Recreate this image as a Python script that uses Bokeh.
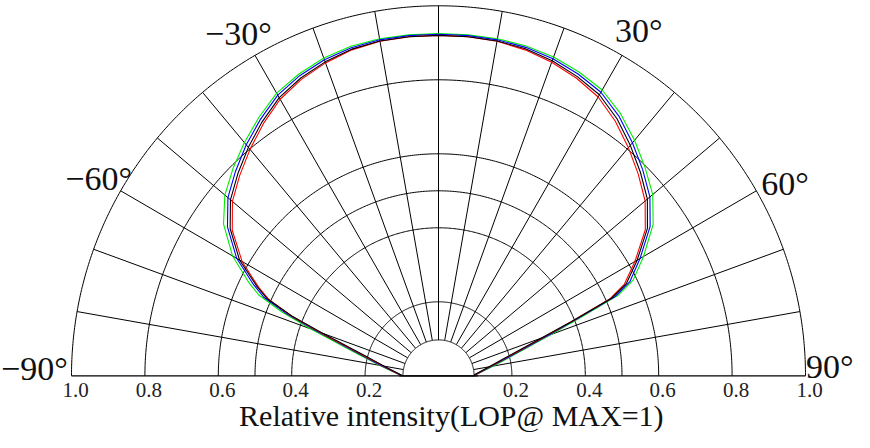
import numpy as np
from bokeh.plotting import figure
from bokeh.models import ColumnDataSource, Label
from bokeh.core.properties import value
from bokeh.embed import file_html
from bokeh.resources import INLINE

# ---------------- data ----------------
angles = [-90, -85, -80, -75, -70, -68, -66, -64, -60, -55, -50, -45, -40, -35, -30, -25, -20, -15, -10, -5,
          0, 5, 10, 15, 20, 25, 30, 35, 40, 45, 50, 55, 60, 64, 66, 68, 70, 75, 80, 85, 90]

black_r = [0.098, 0.118, 0.150, 0.206, 0.336, 0.430, 0.510, 0.550, 0.626, 0.693, 0.740, 0.773, 0.806, 0.838,
           0.868, 0.888, 0.903, 0.914, 0.919, 0.920, 0.920, 0.920, 0.919, 0.915, 0.906, 0.893, 0.877, 0.848,
           0.813, 0.778, 0.743, 0.695, 0.625, 0.570, 0.517, 0.390, 0.300, 0.190, 0.140, 0.111, 0.093]

red_r = [0.098, 0.120, 0.155, 0.212, 0.345, 0.435, 0.505, 0.545, 0.618, 0.686, 0.733, 0.766, 0.799, 0.832,
         0.863, 0.884, 0.900, 0.912, 0.918, 0.920, 0.920, 0.920, 0.918, 0.912, 0.902, 0.888, 0.870, 0.840,
         0.805, 0.770, 0.735, 0.688, 0.618, 0.563, 0.512, 0.390, 0.305, 0.195, 0.143, 0.113, 0.094]

blue_r = [0.100, 0.122, 0.158, 0.218, 0.355, 0.445, 0.520, 0.560, 0.635, 0.702, 0.749, 0.782, 0.815, 0.846,
          0.876, 0.895, 0.909, 0.918, 0.922, 0.923, 0.923, 0.923, 0.922, 0.919, 0.912, 0.900, 0.885, 0.857,
          0.822, 0.787, 0.752, 0.704, 0.634, 0.580, 0.527, 0.400, 0.315, 0.200, 0.147, 0.115, 0.096]

green_r = [0.100, 0.125, 0.163, 0.228, 0.370, 0.460, 0.535, 0.575, 0.648, 0.715, 0.760, 0.792, 0.823, 0.853,
           0.882, 0.900, 0.914, 0.922, 0.925, 0.925, 0.925, 0.925, 0.925, 0.923, 0.917, 0.906, 0.892, 0.865,
           0.831, 0.796, 0.762, 0.714, 0.645, 0.590, 0.537, 0.410, 0.325, 0.207, 0.152, 0.118, 0.097]

circle_radii = [0.2, 0.4, 0.5, 0.6, 0.8, 1.0]
inner_radius = 0.097
spoke_angles = [-80, -70, -60, -50, -40, -30, -20, -10, 0, 10, 20, 30, 40, 50, 60, 70, 80]

tick_values = [-1.0, -0.8, -0.6, -0.4, -0.2, 0.2, 0.4, 0.6, 0.8, 1.0]
tick_labels = ["1.0", "0.8", "0.6", "0.4", "0.2", "0.2", "0.4", "0.6", "0.8", "1.0"]

angle_labels = ["\u221230\u00b0", "30\u00b0", "\u221260\u00b0", "60\u00b0", "\u221290\u00b0", "90\u00b0"]
# (x, y, text_align)
angle_label_pos = [(-0.545, 0.925, "center"), (0.546, 0.933, "center"), (-0.926, 0.533, "center"),
                   (0.944, 0.520, "center"), (-1.192, 0.020, "left"), (1.131, 0.025, "right")]

axis_title = "Relative intensity(LOP@ MAX=1)"

# ---------------- figure ----------------
# page has an 8px margin: figure origin is at page (8, 8)
W, H = 854, 432
CX, CY, SX, SY = 438.0, 375.3, 367.0, 370.0
p = figure(width=W, height=H, x_range=(-CX / SX, (W - CX) / SX), y_range=(-(H - CY) / SY, CY / SY),
           output_backend="svg", toolbar_location=None, min_border=0)
p.axis.visible = False
p.grid.visible = False
p.outline_line_color = None
p.background_fill_color = "white"
p.border_fill_color = "white"

GRID = "#000000"

# concentric half circles
t = np.linspace(-np.pi / 2, np.pi / 2, 361)
for rr in circle_radii:
    p.line(rr * np.sin(t), rr * np.cos(t), line_color=GRID, line_width=1)

# spokes
for a in spoke_angles:
    th = np.deg2rad(a)
    p.line([inner_radius * np.sin(th), np.sin(th)], [inner_radius * np.cos(th), np.cos(th)],
           line_color=GRID, line_width=1)

# baseline
p.line([-1.0, 1.0], [0, 0], line_color=GRID, line_width=1.2)

# curves
def polar(rs):
    th = np.deg2rad(np.array(angles, dtype=float))
    r = np.array(rs, dtype=float)
    return r * np.sin(th), r * np.cos(th)

for rs, col in [(green_r, "#00ee00"), (blue_r, "#0000ff"), (red_r, "#ff0000"), (black_r, "#000000")]:
    x, y = polar(rs)
    p.line(x, y, line_color=col, line_width=1.1)

# inner white half disc
xi = inner_radius * np.sin(t)
yi = inner_radius * np.cos(t)
p.patch(list(xi), list(yi), fill_color="white", line_color=GRID, line_width=1)
p.line([-inner_radius - 0.01, inner_radius + 0.01], [0, 0], line_color=GRID, line_width=1.2)

# tick labels
src = ColumnDataSource(dict(x=tick_values, y=[-0.039] * len(tick_values), text=tick_labels))
p.text(x="x", y="y", text="text", source=src, text_font=value("Liberation Serif"),
       text_font_size="21px", text_align="center", text_baseline="alphabetic",
       text_color="#222222", x_offset=4)

# angle labels
for lab, (lx, ly, al) in zip(angle_labels, angle_label_pos):
    p.add_layout(Label(x=lx, y=ly, text=lab, text_font="Liberation Serif", text_font_size="34px",
                       text_align=al, text_baseline="alphabetic", text_color="#111111"))

# axis title
p.add_layout(Label(x=0.035, y=-0.107, text=axis_title, text_font="Liberation Serif",
                   text_font_size="30px", text_align="center", text_baseline="alphabetic",
                   text_color="#111111"))

open("out.html", "w").write(file_html(p, INLINE))
